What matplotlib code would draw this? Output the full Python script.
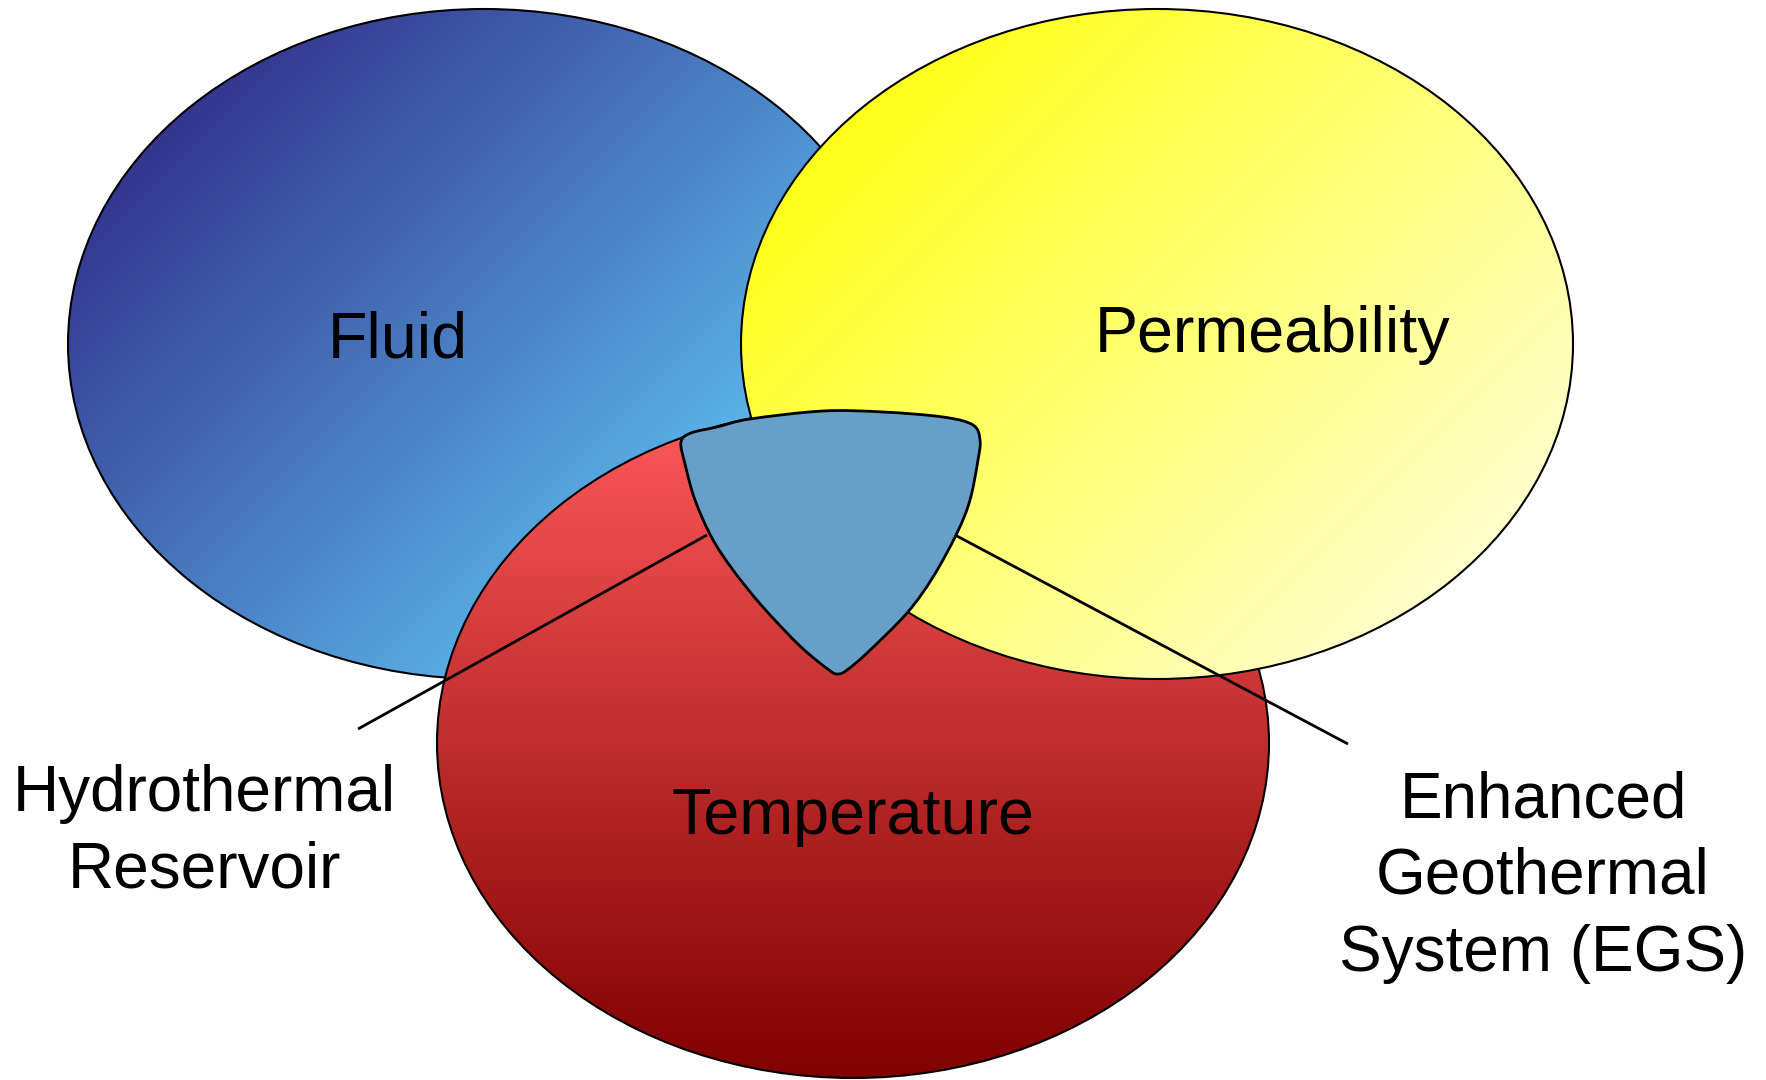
import numpy as np
import matplotlib
matplotlib.use("Agg")
import matplotlib.pyplot as plt
from matplotlib.patches import Ellipse, PathPatch
from matplotlib.path import Path
from matplotlib.colors import to_rgb

# ---- content ----
set_names = ["Fluid", "Temperature", "Permeability"]
set_centers = [(484, 344), (853, 743), (1157, 344)]   # pixel layout (y down)
set_colors_start = ["#34368f", "#ff5a5a", "#ffff1a"]
set_colors_end = ["#5ab2e8", "#800000", "#ffffcc"]
gradient_span = [0.82, 1.0, 1.0]
gradient_dir = [(1, 1), (0, 1), (1, 1)]
label_pos = [(398, 341), (853, 817), (1273, 335)]

callout_texts = ["Hydrothermal\nReservoir", "Enhanced\nGeothermal\nSystem (EGS)"]
callout_text_pos = [(204, 832), (1543, 877)]
callout_lines = [((358, 729), (707, 535)), ((955, 535), (1348, 744))]

center_color = "#679fc8"
center_outline = [(717, 427), (750, 419), (823, 411), (883, 412), (943, 417),
                  (973, 425), (980, 440), (978, 460), (970, 500), (957, 533),
                  (933, 577), (907, 613), (867, 653), (847, 670), (838, 674),
                  (829, 670), (800, 646), (762, 606), (733, 570), (712, 538),
                  (695, 500), (685, 464), (681, 442), (691, 433)]

W, H = 1766, 1080
A, B = 416, 335

plt.rcParams['font.family'] = ['Liberation Sans', 'DejaVu Sans']
fig = plt.figure(figsize=(W / 100, H / 100), dpi=100)
ax = fig.add_axes([0, 0, 1, 1])
ax.set_xlim(0, W)
ax.set_ylim(H, 0)
ax.axis('off')

for i, (c, c0, c1, d, sp) in enumerate(zip(set_centers, set_colors_start, set_colors_end,
                                           gradient_dir, gradient_span)):
    cx, cy = c
    x0, x1, y0, y1 = cx - A, cx + A, cy - B, cy + B
    xs = np.linspace(x0, x1, 400)
    ys = np.linspace(y0, y1, 400)
    X, Y = np.meshgrid(xs, ys)
    u = np.array(d, float)
    u /= np.linalg.norm(u)
    ext = np.sqrt((A * u[0]) ** 2 + (B * u[1]) ** 2)
    t = ((X - cx) * u[0] + (Y - cy) * u[1] + ext) / (2 * ext) / sp
    t = np.clip(t, 0, 1)[..., None]
    img = (1 - t) * np.array(to_rgb(c0)) + t * np.array(to_rgb(c1))
    z = [1, 2, 3][i]
    ell = Ellipse((cx, cy), 2 * A, 2 * B, facecolor='none', edgecolor='black', lw=1.5, zorder=z + 0.5)
    ax.add_patch(ell)
    im = ax.imshow(img, extent=(x0, x1, y1, y0), origin='upper', zorder=z, interpolation='bilinear')
    im.set_clip_path(ell)

for (p0, p1) in callout_lines:
    ax.plot([p0[0], p1[0]], [p0[1], p1[1]], color='black', lw=2, zorder=4, solid_capstyle='butt')

# smooth closed outline (Catmull-Rom -> Bezier)
P = np.array(center_outline, float)
n = len(P)
verts = [P[0]]
codes = [Path.MOVETO]
for k in range(n):
    p0, p1, p2, p3 = P[(k - 1) % n], P[k], P[(k + 1) % n], P[(k + 2) % n]
    c1 = p1 + (p2 - p0) / 6
    c2 = p2 - (p3 - p1) / 6
    verts += [c1, c2, p2]
    codes += [Path.CURVE4] * 3
blob = PathPatch(Path(verts, codes), facecolor=center_color, edgecolor='black', lw=2, zorder=5)
ax.add_patch(blob)

for name, (x, y) in zip(set_names, label_pos):
    ax.text(x, y, name, fontsize=46.5, ha='center', va='center', zorder=6)

for txt, (x, y) in zip(callout_texts, callout_text_pos):
    ax.text(x, y, txt, fontsize=46, ha='center', va='center', linespacing=1.36, zorder=6)

fig.savefig("out.png", dpi=100)
